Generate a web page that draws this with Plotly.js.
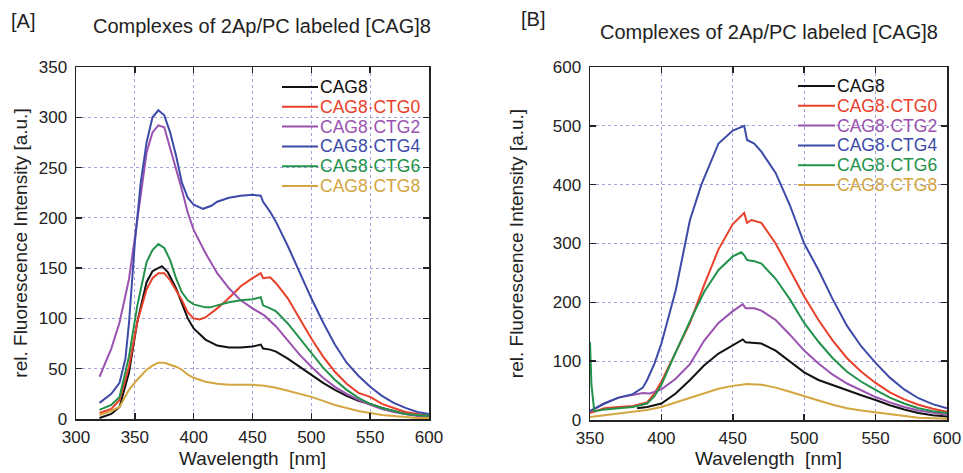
<!DOCTYPE html>
<html>
<head>
<meta charset="utf-8">
<script src="https://cdn.plot.ly/plotly-3.0.1.min.js"></script>
<style>html,body{margin:0;padding:0;background:#fff;}#chart{width:963px;height:473px;}</style>
</head>
<body>
<div id="chart"></div>
<script>
// ---------- Data ----------
const seriesNames = ["CAG8", "CAG8·CTG0", "CAG8·CTG2", "CAG8·CTG4", "CAG8·CTG6", "CAG8·CTG8"];
const seriesColors = ["#111111", "#e8402a", "#9a52b0", "#3d4aa8", "#22924a", "#d4a640"];

// Panel A (wavelength nm, intensity)
const aCAG8_x = [320,330,337,345,352,360,365,370,373,378,385,390,395,400,405,410,420,430,440,450,457,459,465,470,480,490,500,510,520,530,540,550,560,570,580,590,600];
const aCAG8_y = [1,5,12,46,96,136,147,150,152,146,130,115,100,90,84,79,73,71,71,72,74,70,69,67,60,52,44,36,29,23,18,15,11,8,5,4,3];

const aCTG0_x = [320,330,337,345,352,360,365,370,375,380,385,390,395,400,405,410,420,427,435,440,450,457,459,465,470,480,490,500,510,520,530,540,550,560,570,580,590,600];
const aCTG0_y = [6,10,19,52,96,129,140,145,145,138,128,118,106,100,99,101,110,117,126,132,140,145,140,141,135,120,100,80,62,47,35,26,22,15,11,7,5,3];

const aCTG2_x = [320,330,337,345,350,355,360,365,370,375,380,385,390,395,400,410,420,430,440,450,460,470,480,490,500,510,520,530,540,550,560,570,580,590,600];
const aCTG2_y = [42,70,96,139,180,225,265,285,292,290,270,250,228,205,188,165,145,130,118,110,103,92,78,64,52,41,32,25,19,14,10,7,5,3,2];

const aCTG4_x = [320,330,337,342,345,350,355,360,365,370,375,380,385,390,395,400,408,415,420,430,440,450,457,459,465,470,480,490,500,510,520,530,540,550,560,570,580,590,600];
const aCTG4_y = [16,25,36,60,95,175,235,275,300,307,302,285,262,235,220,213,209,212,216,220,222,223,222,216,206,196,172,146,120,96,74,56,43,32,23,16,11,7,5];

const aCTG6_x = [320,330,337,345,352,360,365,370,375,380,385,390,395,400,410,414,420,430,440,450,457,459,465,470,480,490,500,510,520,530,540,550,560,570,580,590,600];
const aCTG6_y = [9,14,22,62,112,156,168,174,170,158,140,126,118,114,111,111,113,116,118,119,121,113,110,107,95,80,65,51,39,29,21,15,11,8,5,4,3];

const aCTG8_x = [320,330,337,345,352,360,365,370,375,380,385,390,395,400,410,420,430,440,450,460,470,480,490,500,510,520,530,540,550,560,570,580,590,600];
const aCTG8_y = [4,8,12,29,39,49,53,56,56,54,52,49,44,41,37,35,34,34,34,33,31,28,25,22,18,14,11,8,6,4,3,2,1,1];

// Panel B
const bCAG8_x = [383,390,400,410,420,430,440,450,457,459,465,470,480,490,500,510,520,530,540,550,560,570,580,590,600];
const bCAG8_y = [20,22,28,45,68,93,113,127,137,132,131,130,118,100,81,68,59,50,42,34,25,18,12,8,6];

const bCTG0_x = [350,355,360,370,380,390,395,400,405,410,420,430,440,450,456,458,460,463,470,480,490,500,510,520,530,540,550,560,570,580,590,600];
const bCTG0_y = [12,16,20,22,24,30,45,65,90,115,165,230,290,333,348,352,335,340,335,300,255,210,170,135,105,82,63,47,35,26,19,14];

const bCTG2_x = [350,355,360,370,380,387,392,400,410,420,430,440,450,457,459,465,470,480,490,500,510,520,530,540,550,560,570,580,590,600];
const bCTG2_y = [15,22,28,38,42,46,45,52,70,95,135,165,185,197,190,190,186,170,145,118,96,77,62,50,39,30,22,16,12,9];

const bCTG4_x = [350,355,360,370,380,387,390,395,400,410,420,428,440,450,455,458,460,465,470,480,490,500,510,520,530,540,550,560,570,580,590,600];
const bCTG4_y = [15,22,28,38,44,55,68,95,130,220,340,400,470,492,497,500,476,470,456,420,365,300,255,205,160,125,97,72,52,37,27,20];

const bCTG6_x = [350,351,353,360,370,380,390,395,400,405,410,420,430,440,450,456,458,460,465,470,480,490,500,510,520,530,540,550,560,570,580,590,600];
const bCTG6_y = [132,60,15,18,20,22,28,40,60,88,115,168,218,255,278,285,280,272,270,266,240,205,165,133,105,82,65,51,38,28,20,15,12];

const bCTG8_x = [350,360,370,380,390,400,410,420,430,440,450,460,470,480,490,500,510,520,530,540,550,560,570,580,590,600];
const bCTG8_y = [5,8,10,13,17,22,30,38,46,53,58,61,60,55,48,40,33,26,20,16,13,9,6,4,3,2];

const panelA = [[aCAG8_x,aCAG8_y],[aCTG0_x,aCTG0_y],[aCTG2_x,aCTG2_y],[aCTG4_x,aCTG4_y],[aCTG6_x,aCTG6_y],[aCTG8_x,aCTG8_y]];
const panelB = [[bCAG8_x,bCAG8_y],[bCTG0_x,bCTG0_y],[bCTG2_x,bCTG2_y],[bCTG4_x,bCTG4_y],[bCTG6_x,bCTG6_y],[bCTG8_x,bCTG8_y]];

const xTicksA = [300,350,400,450,500,550,600];
const yTicksA = [0,50,100,150,200,250,300,350];
const xTicksB = [350,400,450,500,550,600];
const yTicksB = [0,100,200,300,400,500,600];

const chartTitle = "Complexes of 2Ap/PC labeled [CAG]8";
const panelLabels = ["[A]", "[B]"];
const xTitle = "Wavelength  [nm]";
const yTitle = "rel. Fluorescence Intensity [a.u.]";

// ---------- Build ----------
const FONT = "Arial, 'Liberation Sans', sans-serif";
const W = 963, H = 473;
const traces = [];
panelA.forEach((d, i) => {
  traces.push({x: d[0], y: d[1], type: "scatter", mode: "lines", xaxis: "x", yaxis: "y",
    name: seriesNames[i], line: {color: seriesColors[i], width: 2}, showlegend: false});
});
panelB.forEach((d, i) => {
  traces.push({x: d[0], y: d[1], type: "scatter", mode: "lines", xaxis: "x2", yaxis: "y2",
    name: seriesNames[i], line: {color: seriesColors[i], width: 2}, showlegend: false});
});

const axisCommon = {
  showline: true, linecolor: "#222", linewidth: 1.5, mirror: "ticks",
  ticks: "inside", ticklen: 6, tickcolor: "#222", tickwidth: 1.5,
  showgrid: true, gridcolor: "#a8a2dc", griddash: "dot", gridwidth: 1,
  zeroline: false, tickfont: {family: FONT, size: 17, color: "#222"}
};
const titleFont = {family: FONT, size: 19, color: "#222"};

// custom legend (legend box layout: line + coloured text)
const annotations = [];
const shapes = [];
const legends = [{lineX0: 282, lineX1: 318, textX: 318, rowY0: 87}, {lineX0: 798, lineX1: 835, textX: 835, rowY0: 86}];
const rowStep = 19.8;
legends.forEach(L => {
  seriesNames.forEach((nm, i) => {
    const yy = 1 - (L.rowY0 + i * rowStep) / H;
    shapes.push({type: "line", xref: "paper", yref: "paper", x0: L.lineX0 / W, x1: L.lineX1 / W, y0: yy, y1: yy,
      line: {color: seriesColors[i], width: 2}});
    annotations.push({text: nm, xref: "paper", yref: "paper", x: L.textX / W, y: yy, xanchor: "left", yanchor: "middle",
      showarrow: false, font: {family: FONT, size: 17.5, color: seriesColors[i]}});
  });
});
annotations.push(
  {text: panelLabels[0], x: 9/W, y: 1 - 21/H, xref: "paper", yref: "paper", xanchor: "left", yanchor: "middle", showarrow: false,
    font: {family: FONT, size: 20, color: "#222"}},
  {text: chartTitle, x: 262/W, y: 1 - 26/H, xref: "paper", yref: "paper", xanchor: "center", yanchor: "middle", showarrow: false,
    font: {family: FONT, size: 20, color: "#222"}},
  {text: panelLabels[1], x: 519/W, y: 1 - 19/H, xref: "paper", yref: "paper", xanchor: "left", yanchor: "middle", showarrow: false,
    font: {family: FONT, size: 20, color: "#222"}},
  {text: chartTitle, x: 769/W, y: 1 - 32/H, xref: "paper", yref: "paper", xanchor: "center", yanchor: "middle", showarrow: false,
    font: {family: FONT, size: 20, color: "#222"}}
);

const layout = {
  width: W, height: H,
  margin: {l: 0, r: 0, t: 0, b: 0},
  paper_bgcolor: "#fff", plot_bgcolor: "#fff",
  font: {family: FONT, color: "#222"},
  showlegend: false,
  xaxis: Object.assign({}, axisCommon, {domain: [76/W, 429/W], range: [300, 600], tickvals: xTicksA, anchor: "y",
    ticklabelstandoff: 2, title: {text: xTitle, font: titleFont, standoff: 6}}),
  yaxis: Object.assign({}, axisCommon, {domain: [(H-419)/H, (H-67)/H], range: [0, 350], tickvals: yTicksA, anchor: "x",
    ticklabelstandoff: 4, title: {text: yTitle, font: titleFont, standoff: 6}}),
  xaxis2: Object.assign({}, axisCommon, {domain: [590/W, 947/W], range: [350, 600], tickvals: xTicksB, anchor: "y2",
    ticklabelstandoff: 2, title: {text: xTitle, font: titleFont, standoff: 2}}),
  yaxis2: Object.assign({}, axisCommon, {domain: [(H-420)/H, (H-67)/H], range: [0, 600], tickvals: yTicksB, anchor: "x2",
    ticklabelstandoff: 4, title: {text: yTitle, font: titleFont, standoff: 24}}),
  shapes: shapes,
  annotations: annotations
};

Plotly.newPlot("chart", traces, layout, {displayModeBar: false, staticPlot: true});
</script>
</body>
</html>
